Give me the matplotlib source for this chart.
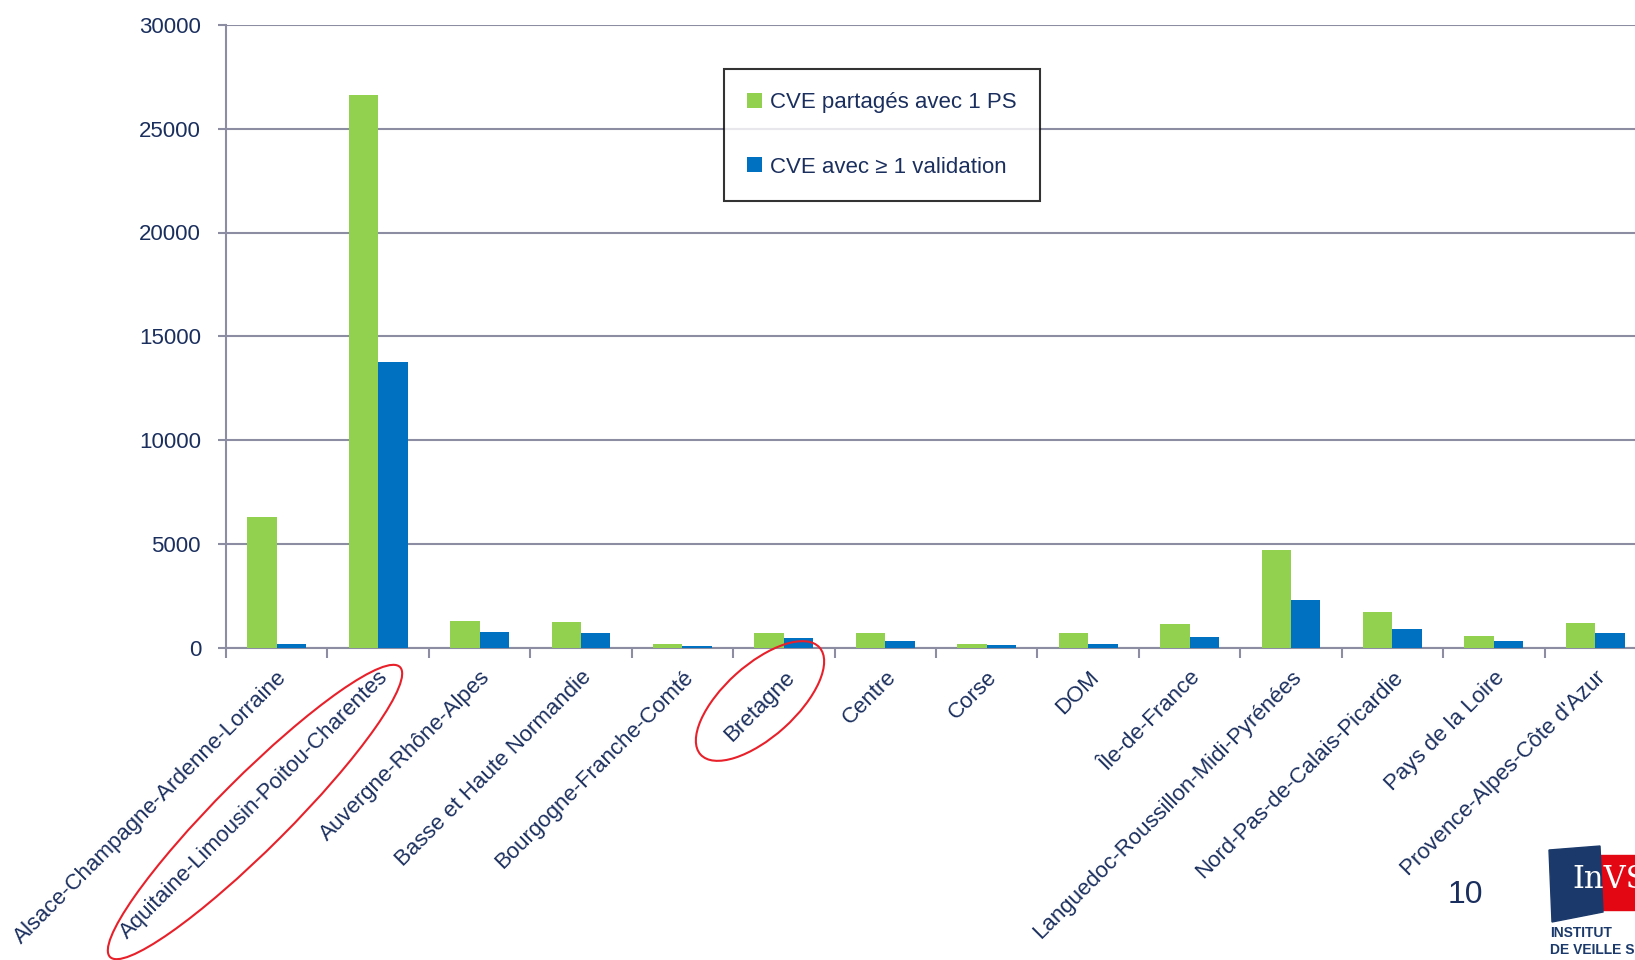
import matplotlib.pyplot as plt
import matplotlib.patches as mpatches
import numpy as np

plt.rcParams["font.family"] = ["Liberation Sans", "DejaVu Sans"]

regions = [
    "Alsace-Champagne-Ardenne-Lorraine",
    "Aquitaine-Limousin-Poitou-Charentes",
    "Auvergne-Rhône-Alpes",
    "Basse et Haute Normandie",
    "Bourgogne-Franche-Comté",
    "Bretagne",
    "Centre",
    "Corse",
    "DOM",
    "Île-de-France",
    "Languedoc-Roussillon-Midi-Pyrénées",
    "Nord-Pas-de-Calais-Picardie",
    "Pays de la Loire",
    "Provence-Alpes-Côte d'Azur",
]
cve_partages = [6280, 26630, 1300, 1250, 150, 700, 700, 150, 700, 1130, 4700, 1710, 550, 1180]
cve_valides = [150, 13770, 750, 720, 60, 450, 300, 130, 190, 500, 2300, 900, 310, 680]
yticks = [0, 5000, 10000, 15000, 20000, 25000, 30000]

GREEN = "#92D050"
BLUE = "#0070C0"
NAVY = "#1B2F5E"
GRID = "#8C8CA3"
FS = 16

W, H = 1635, 960
fig = plt.figure(figsize=(W / 100, H / 100), dpi=100)
ax = fig.add_axes([226 / W, 312.5 / H, 1420 / W, 622.5 / H])

x = np.arange(len(regions))
bw = 0.29
ax.bar(x - bw / 2, cve_partages, bw, color=GREEN, label="CVE partagés avec 1 PS", zorder=3)
ax.bar(x + bw / 2, cve_valides, bw, color=BLUE, label="CVE avec ≥ 1 validation", zorder=3)

ax.set_xlim(-0.5, len(regions) - 0.5)
ax.set_ylim(0, 30000)
ax.set_yticks(yticks)
ax.set_yticklabels([str(v) for v in yticks], fontsize=FS, color=NAVY)
ax.yaxis.grid(True, color=GRID, lw=1.5, zorder=0)
ax.set_axisbelow(True)

# category boundary ticks on the x axis, labels at the centres
ax.set_xticks(np.arange(len(regions) + 1) - 0.5)
ax.set_xticklabels([])
ax.set_xticks(x, minor=True)
ax.set_xticklabels(regions, minor=True, rotation=45, ha="right",
                   rotation_mode="anchor", fontsize=FS, color=NAVY)
ax.tick_params(axis="x", which="minor", length=0, pad=14)
ax.tick_params(axis="x", which="major", length=7, width=1.5, color=GRID)
ax.tick_params(axis="y", length=6, width=1.5, color=GRID, pad=12)

for s in ["top", "right"]:
    ax.spines[s].set_visible(False)
for s in ["left", "bottom"]:
    ax.spines[s].set_color(GRID)
    ax.spines[s].set_linewidth(1.5)

leg = ax.legend(loc="upper left", bbox_to_anchor=((724 - 226) / 1420, 1 - (69 - 25) / 622.5),
                fontsize=FS, frameon=True, fancybox=False, handlelength=0.65,
                handleheight=0.65, labelspacing=1.95, borderpad=1.05, borderaxespad=0,
                handletextpad=0.35)
leg.get_frame().set_edgecolor("black")
leg.get_frame().set_linewidth(1.5)
for t in leg.get_texts():
    t.set_color(NAVY)

# overlay in pixel coordinates (y up) for annotations and logo
ov = fig.add_axes([0, 0, 1, 1])
ov.set_xlim(0, W)
ov.set_ylim(0, H)
ov.axis("off")
ov.add_patch(mpatches.Ellipse((255, H - 812), 410, 72, angle=45, fill=False,
                              edgecolor="#E8202A", lw=1.5))
ov.add_patch(mpatches.Ellipse((760, H - 701), 160, 72, angle=42, fill=False,
                              edgecolor="#E8202A", lw=1.5))

ov.text(1465, H - 895, "10", fontsize=23, color=NAVY, ha="center", va="center")

# InVS logo (cropped at the right edge)
ov.add_patch(mpatches.Rectangle((1598, H - 910), 40, 55, color="#E30613"))
ov.add_patch(mpatches.Polygon([(1549, H - 850), (1600, H - 846), (1603, H - 912),
                               (1552, H - 922)], closed=True, color="#1B3A6B"))
ov.text(1572, H - 880, "InVS", fontsize=22, color="white", family="DejaVu Serif",
        ha="left", va="center")
ov.text(1550, H - 933, "INSTITUT", fontsize=10, color="#1B3A6B", fontweight="bold",
        ha="left", va="center")
ov.text(1550, H - 950, "DE VEILLE S", fontsize=10, color="#1B3A6B",
        fontweight="bold", ha="left", va="center")

fig.savefig("out.png", dpi=100, facecolor="white")
